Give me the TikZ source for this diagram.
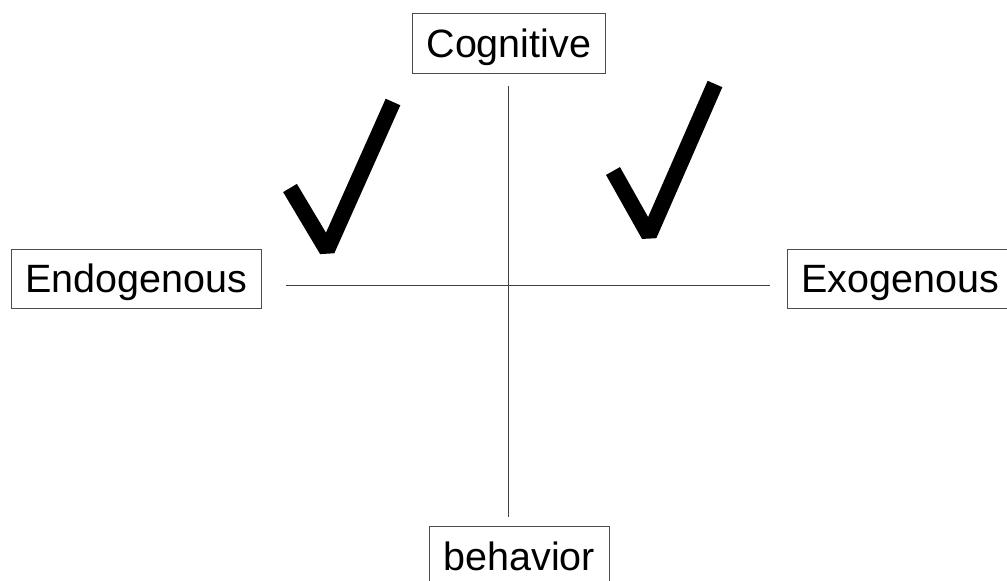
\documentclass[tikz,border=0pt]{standalone}
\usepackage{fontspec}
\setmainfont{Liberation Sans}
\begin{document}
\begin{tikzpicture}[x=1pt,y=-1pt,
  labelbox/.style={draw=black!70, line width=1pt, fill=white,
    font=\fontsize{39.5}{40}\selectfont, inner xsep=14pt, inner ysep=0pt,
    text height=44pt, text depth=16pt, anchor=north west},
  axis/.style={draw=black!75, line width=1pt},
  tick/.style={draw=black, line width=16pt, line join=bevel}]
\useasboundingbox (0,0) rectangle (1007,581);

% four labelled poles
\node[labelbox] (cog)  at (412,13)  {Cognitive};
\node[labelbox, text height=43pt] (endo) at (11,249)  {Endogenous};
\node[labelbox, text height=43pt] (exo)  at (787,249) {Exogenous};
\node[labelbox] (beh)  at (429,526) {behavior};

% axis ends, set back a little from the boxes
\coordinate (vtop) at ([yshift=-12pt] cog.south);
\coordinate (behgap) at ([yshift=9pt] beh.north);
\coordinate (vbot) at (vtop |- behgap);
\coordinate (hl)   at ([xshift=24pt, yshift=-6.5pt] endo.east);
\coordinate (exogap) at ([xshift=-17pt] exo.west);
\coordinate (hr)   at (hl -| exogap);

\draw[axis] (vtop) -- (vbot);
\draw[axis] (hl) -- (hr);

% check marks in the two upper quadrants
\coordinate (la) at (290,188);
\coordinate (lb) at (327,250);
\coordinate (lc) at (393,102);
\draw[tick] (la) -- (lb) -- (lc);

\coordinate (ra) at (613,171);
\coordinate (rb) at (649,235);
\coordinate (rc) at (715,84);
\draw[tick] (ra) -- (rb) -- (rc);
\end{tikzpicture}
\end{document}
